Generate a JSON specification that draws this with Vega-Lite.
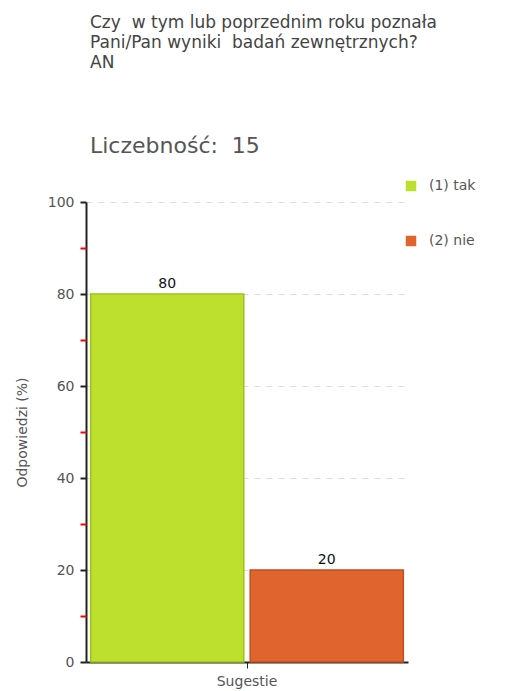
{
  "$schema": "https://vega.github.io/schema/vega-lite/v6.json",
  "width": 322,
  "height": 460,
  "autosize": "none",
  "padding": {"left": 86, "top": 202, "right": 115, "bottom": 29},
  "background": "white",
  "config": {
    "font": "DejaVu Sans",
    "view": {"stroke": null}
  },
  "title": {
    "text": ["Czy\u00a0 w tym lub poprzednim roku poznała", "Pani/Pan wyniki\u00a0 badań zewnętrznych?", "AN"],
    "subtitle": "Liczebność:\u00a0 15",
    "anchor": "start",
    "frame": "group",
    "dx": 4,
    "offset": 21,
    "fontSize": 17,
    "fontWeight": "normal",
    "color": "#444444",
    "lineHeight": 20,
    "subtitleFontSize": 22,
    "subtitleColor": "#555555",
    "subtitlePadding": 64
  },
  "data": {
    "values": [
      {"cat": "Sugestie", "series": "(1) tak", "value": 80},
      {"cat": "Sugestie", "series": "(2) nie", "value": 20}
    ]
  },
  "resolve": {"axis": {"y": "independent"}},
  "layer": [
    {
      "mark": {"type": "bar", "strokeWidth": 1.5},
      "encoding": {
        "x": {
          "field": "cat",
          "type": "nominal",
          "scale": {"paddingInner": 0, "paddingOuter": 0.015},
          "axis": {
            "title": null,
            "labelAngle": 0,
            "labelFontSize": 14,
            "labelColor": "#555555",
            "labelPadding": 6,
            "domainColor": "#222222",
            "domainWidth": 2,
            "tickColor": "#222222",
            "tickSize": 6,
            "grid": false
          }
        },
        "xOffset": {
          "field": "series",
          "type": "nominal",
          "scale": {"paddingInner": 0.04, "paddingOuter": 0}
        },
        "y": {
          "field": "value",
          "type": "quantitative",
          "scale": {"domain": [0, 100], "nice": false},
          "axis": {
            "orient": "left",
            "title": "Odpowiedzi (%)",
            "titleFontSize": 14,
            "titleFontWeight": "normal",
            "titleColor": "#555555",
            "titlePadding": 18,
            "values": [0, 20, 40, 60, 80, 100],
            "labelFontSize": 14,
            "labelColor": "#555555",
            "labelPadding": 6,
            "domainColor": "#222222",
            "domainWidth": 2,
            "tickColor": "#222222",
            "tickSize": 6,
            "tickWidth": 2,
            "grid": true,
            "gridColor": "#dddddd",
            "gridDash": [6, 6]
          }
        },
        "fill": {
          "field": "series",
          "type": "nominal",
          "scale": {"domain": ["(1) tak", "(2) nie"], "range": ["#bde02e", "#e0642e"]},
          "legend": {
            "orient": "none",
            "legendX": 318,
            "legendY": -23,
            "title": null,
            "symbolType": "square",
            "symbolSize": 110,
            "symbolStrokeWidth": 0,
            "labelFontSize": 14,
            "labelColor": "#555555",
            "labelOffset": 11,
            "rowPadding": 41
          }
        },
        "stroke": {
          "field": "series",
          "type": "nominal",
          "scale": {"domain": ["(1) tak", "(2) nie"], "range": ["#9dc21c", "#c24e1c"]},
          "legend": null
        }
      }
    },
    {
      "mark": {"type": "text", "dy": -10, "fontSize": 14, "color": "#111111"},
      "encoding": {
        "x": {"field": "cat", "type": "nominal"},
        "xOffset": {"field": "series", "type": "nominal"},
        "y": {
          "field": "value",
          "type": "quantitative",
          "axis": {
            "orient": "left",
            "values": [10, 30, 50, 70, 90],
            "labels": false,
            "domain": false,
            "grid": false,
            "title": null,
            "tickColor": "#ff0000",
            "tickSize": 6,
            "tickWidth": 2
          }
        },
        "text": {"field": "value", "type": "quantitative"}
      }
    }
  ]
}
